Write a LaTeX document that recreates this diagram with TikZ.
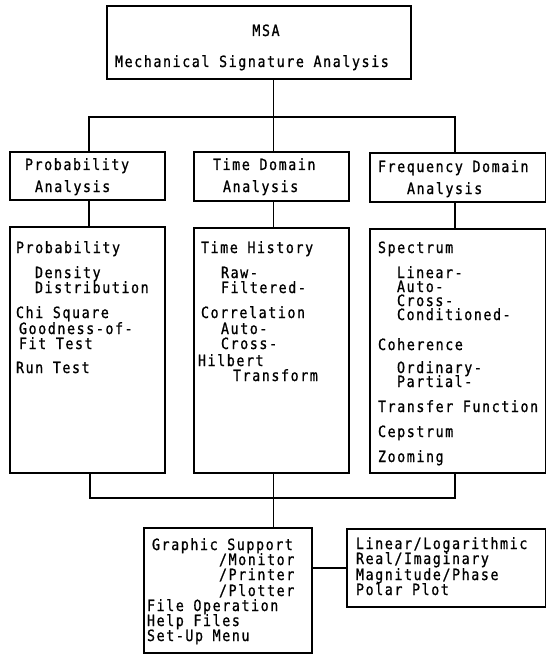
\documentclass[tikz,border=0pt]{standalone}
\usepackage{fontspec}
\newfontfamily\dm[LetterSpace=10.2,FakeStretch=0.86,FakeBold=0.9]{DejaVu Sans Mono}
\newcommand\tline[4]{\node[txt] (#1) at (#2,#3) {#4};}
\begin{document}
\begin{tikzpicture}[x=1pt,y=-1pt,
  box/.style={draw, line width=1.1pt, inner sep=0pt, outer sep=0pt, anchor=north west},
  txt/.style={anchor=base west, inner sep=0pt, outer sep=0pt, font=\dm\fontsize{15.5}{15}\selectfont},
  link/.style={line width=1.1pt}]
\useasboundingbox (0,0) rectangle (546,655);
% column and bus coordinates
\coordinate (cP) at (89,0);
\coordinate (cT) at (273.5,0);
\coordinate (cF) at (455,0);
\coordinate (cPb) at (90,0);
\coordinate (bt) at (0,117);
\coordinate (bb) at (0,498);
\coordinate (cR) at (0,568);
% boxes
\node[box, minimum width=304pt, minimum height=73pt] (msa) at (107,6) {};
\node[box, minimum width=155pt, minimum height=48pt] (pa) at (10,152) {};
\node[box, minimum width=155pt, minimum height=49pt] (ta) at (194,152) {};
\node[box, minimum width=175.5pt, minimum height=49pt] (fa) at (370,153) {};
\node[box, minimum width=155pt, minimum height=246pt] (pl) at (10,227) {};
\node[box, minimum width=155pt, minimum height=245pt] (tl) at (194,228) {};
\node[box, minimum width=175.5pt, minimum height=244pt] (fl) at (370,229) {};
\node[box, minimum width=168pt, minimum height=125pt] (gs) at (144,528) {};
\node[box, minimum width=198.5pt, minimum height=78pt] (lp) at (347,529) {};
% connectors
\draw[link] (msa.south -| cT) -- (ta.north -| cT);
\draw[link] (pa.north -| cP) -- (cP |- bt) -- (cF |- bt) -- (fa.north -| cF);
\draw[link] (pa.south -| cP) -- (pl.north -| cP);
\draw[link] (ta.south -| cT) -- (tl.north -| cT);
\draw[link] (fa.south -| cF) -- (fl.north -| cF);
\draw[link] (pl.south -| cPb) -- (cPb |- bb) -- (cF |- bb) -- (fl.south -| cF);
\draw[link] (tl.south -| cT) -- (gs.north -| cT);
\draw[link] (gs.east |- cR) -- (lp.west |- cR);
% top text
\node[txt, anchor=base] (t0) at (266,36) {MSA};
\tline{t1}{115}{67}{Mechanical Signature Analysis}
% level 2 text
\tline{pa1}{25}{170}{Probability}
\tline{pa2}{35}{192}{Analysis}
\tline{ta1}{213}{170}{Time Domain}
\tline{ta2}{223}{192}{Analysis}
\tline{fa1}{378}{172}{Frequency Domain}
\tline{fa2}{407}{194}{Analysis}
% probability column
\tline{p1}{16}{253}{Probability}
\tline{p2}{35}{278}{Density}
\tline{p3}{35}{293}{Distribution}
\tline{p4}{16}{318}{Chi Square}
\tline{p5}{19}{334}{Goodness-of-}
\tline{p6}{19}{349}{Fit Test}
\tline{p7}{16}{373}{Run Test}
% time column
\tline{q1}{201}{253}{Time History}
\tline{q2}{221}{278}{Raw-}
\tline{q3}{221}{293}{Filtered-}
\tline{q4}{201}{318}{Correlation}
\tline{q5}{221}{334}{Auto-}
\tline{q6}{221}{349}{Cross-}
\tline{q7}{198}{366}{Hilbert}
\tline{q8}{233}{381}{Transform}
% frequency column
\tline{f1}{378}{253}{Spectrum}
\tline{f2}{397}{278}{Linear-}
\tline{f3}{397}{292}{Auto-}
\tline{f4}{397}{306}{Cross-}
\tline{f5}{397}{320}{Conditioned-}
\tline{f6}{378}{350}{Coherence}
\tline{f7}{397}{373}{Ordinary-}
\tline{f8}{397}{387}{Partial-}
\tline{f9}{378}{412}{Transfer Function}
\tline{f10}{378}{437}{Cepstrum}
\tline{f11}{378}{462}{Zooming}
% bottom box
\tline{g1}{152}{550}{Graphic Support}
\tline{g2}{219}{565}{/Monitor}
\tline{g3}{219}{580}{/Printer}
\tline{g4}{219}{596}{/Plotter}
\tline{g5}{147}{611}{File Operation}
\tline{g6}{147}{626}{Help Files}
\tline{g7}{147}{641}{Set-Up Menu}
% right box
\tline{r1}{356}{549}{Linear/Logarithmic}
\tline{r2}{356}{564}{Real/Imaginary}
\tline{r3}{356}{580}{Magnitude/Phase}
\tline{r4}{356}{595}{Polar Plot}
\end{tikzpicture}
\end{document}
